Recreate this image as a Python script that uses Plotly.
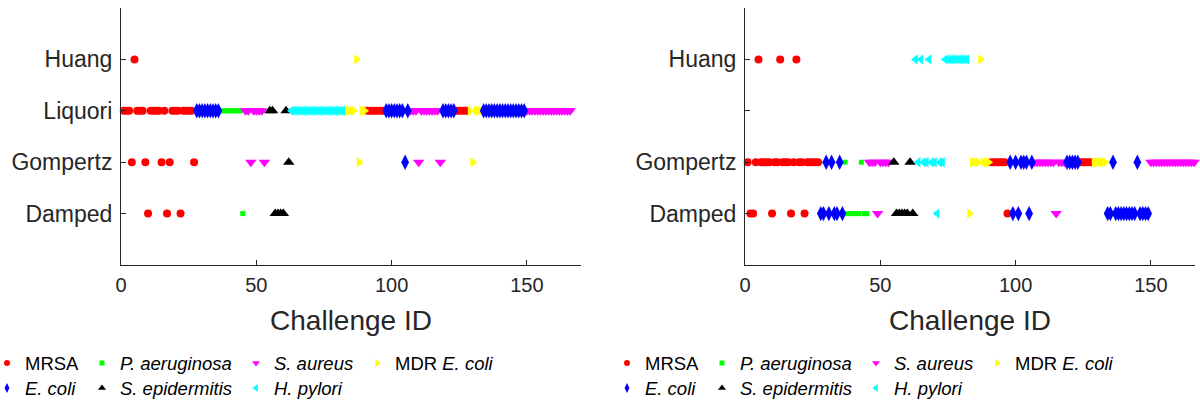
import plotly.graph_objects as go

# ---------------- data ----------------
MODELS = ["Damped", "Gompertz", "Liquori", "Huang"]          # y rows 1..4
PATHOGENS = ["MRSA", "P. aeruginosa", "S. aureus", "MDR E. coli",
             "E. coli", "S. epidermitis", "H. pylori"]
LEGEND_LABELS = ["MRSA", "<i>P. aeruginosa</i>", "<i>S. aureus</i>", "MDR <i>E. coli</i>",
                 "<i>E. coli</i>", "<i>S. epidermitis</i>", "<i>H. pylori</i>"]

# challenge-ID runs (first, last) belonging to each pathogen
MRSA_RUNS = [(1, 27), (91, 97), (124, 128)]
PAER_RUNS = [(37, 45)]
SAUR_RUNS = [(46, 53), (107, 118), (150, 166)]
MDR_RUNS = [(83, 90), (129, 133)]
ECOLI_RUNS = [(28, 36), (98, 106), (119, 123), (134, 149)]
SEPI_RUNS = [(55, 62)]
HPYL_RUNS = [(63, 82)]

# left panel: challenges whose best model is not Liquori
LEFT_HUANG = [5, 87]
LEFT_GOMPERTZ = [4, 9, 15, 18, 27, 48, 53, 62, 88, 105, 110, 118, 130]
LEFT_DAMPED = [10, 17, 22, 45, 57, 58, 59, 60]
LEFT_DEFAULT = "Liquori"

# right panel: challenges whose best model is not Gompertz
RIGHT_HUANG = [5, 13, 19, 63, 65, 68, 74, 75, 76, 77, 78, 79, 80, 81, 82, 87]
RIGHT_DAMPED = [2, 3, 10, 17, 22, 28, 29, 31, 33, 34, 36, 38, 39, 40, 41, 42, 44, 45,
                49, 56, 57, 58, 59, 60, 62, 71, 83, 97, 99, 101, 105, 115,
                134, 135, 137, 138, 139, 140, 141, 142, 143, 144, 146, 147, 148, 149]
RIGHT_DEFAULT = "Gompertz"

# ---------------- style ----------------
COLORS = ["#FF0000", "#00FF00", "#FF00FF", "#FFFF00", "#0000FF", "#000000", "#00FFFF"]
SYMBOLS = ["circle", "square", "triangle-down", "triangle-right",
           "diamond-tall", "triangle-up", "triangle-left"]
SIZES = [8, 5, 10, 9, 11, 10, 9]
LEG_SIZES = [6, 5, 7, 7, 7, 7, 7]
AX = "#262626"
FONT = "Liberation Sans, Arial, sans-serif"

ALL_RUNS = [MRSA_RUNS, PAER_RUNS, SAUR_RUNS, MDR_RUNS, ECOLI_RUNS, SEPI_RUNS, HPYL_RUNS]


def expand(runs):
    out = []
    for a, b in runs:
        out.extend(range(a, b + 1))
    return out


def row_of(cid, special, default):
    for model, ids in special.items():
        if cid in ids:
            return model
    return default


panels = [
    ({"Huang": LEFT_HUANG, "Gompertz": LEFT_GOMPERTZ, "Damped": LEFT_DAMPED}, LEFT_DEFAULT, "x", "y"),
    ({"Huang": RIGHT_HUANG, "Damped": RIGHT_DAMPED}, RIGHT_DEFAULT, "x2", "y2"),
]

fig = go.Figure()
for special, default, xa, ya in panels:
    for k, name in enumerate(PATHOGENS):
        ids = expand(ALL_RUNS[k])
        ys = [MODELS.index(row_of(c, special, default)) + 1 for c in ids]
        fig.add_trace(go.Scatter(
            x=ids, y=ys, mode="markers", name=name, showlegend=False,
            xaxis=xa, yaxis=ya, cliponaxis=False,
            marker=dict(symbol=SYMBOLS[k], size=SIZES[k], color=COLORS[k], line=dict(width=0)),
        ))

# ---------------- manual legends (pixel coordinates on a hidden axis) ----------------
COL_X = [7, 102, 256, 377]
ROW_Y = [363, 388]
PANEL_SHIFT = [0, 620]
annotations = []
for shift in PANEL_SHIFT:
    for k in range(len(PATHOGENS)):
        r, c = divmod(k, 4)
        mx = COL_X[c] + shift
        my = ROW_Y[r]
        fig.add_trace(go.Scatter(
            x=[mx], y=[my], mode="markers", showlegend=False, xaxis="x3", yaxis="y3",
            hoverinfo="skip", cliponaxis=False,
            marker=dict(symbol=SYMBOLS[k], size=LEG_SIZES[k], color=COLORS[k], line=dict(width=0)),
        ))
        annotations.append(dict(
            x=mx + 16, y=my, xref="x3", yref="y3", text=LEGEND_LABELS[k],
            showarrow=False, xanchor="left", yanchor="middle",
            font=dict(family=FONT, size=18.5, color="#000000"),
        ))

W, H = 1200, 404
y_dom = [(H - 265) / H, (H - 8) / H]


def xaxis(dom, rng):
    return dict(domain=dom, range=rng, showline=True, linecolor=AX, linewidth=1,
                ticks="inside", ticklen=5, tickcolor=AX, tickvals=[0, 50, 100, 150],
                tickfont=dict(family=FONT, size=20, color=AX), showgrid=False, zeroline=False,
                title=dict(text="Challenge ID", font=dict(family=FONT, size=28, color=AX), standoff=15),
                ticklabelstandoff=2, automargin=False)


def yaxis(anchor, labels):
    return dict(domain=y_dom, range=[0, 5], anchor=anchor, showline=True, linecolor=AX, linewidth=1,
                ticks="inside", ticklen=5, tickcolor=AX, tickvals=[1, 2, 3, 4], ticktext=labels,
                tickfont=dict(family=FONT, size=23, color=AX), showgrid=False, zeroline=False,
                ticklabelstandoff=3, automargin=False)


fig.update_layout(
    width=W, height=H, margin=dict(l=0, r=0, t=0, b=0, autoexpand=False),
    paper_bgcolor="white", plot_bgcolor="rgba(0,0,0,0)",
    font=dict(family=FONT, color=AX),
    xaxis=xaxis([121 / W, 581 / W], [0, 170]) | dict(anchor="y"),
    yaxis=yaxis("x", MODELS),
    xaxis2=xaxis([745 / W, 1195 / W], [0, 450 / 2.706]) | dict(anchor="y2"),
    yaxis2=yaxis("x2", ["Damped", "Gompertz", "", "Huang"]),
    xaxis3=dict(domain=[0, 1], range=[0, W], visible=False, anchor="y3", automargin=False),
    yaxis3=dict(domain=[0, 1], range=[H, 0], visible=False, anchor="x3", automargin=False),
    annotations=annotations,
    showlegend=False,
)

fig.write_html("out.html")
